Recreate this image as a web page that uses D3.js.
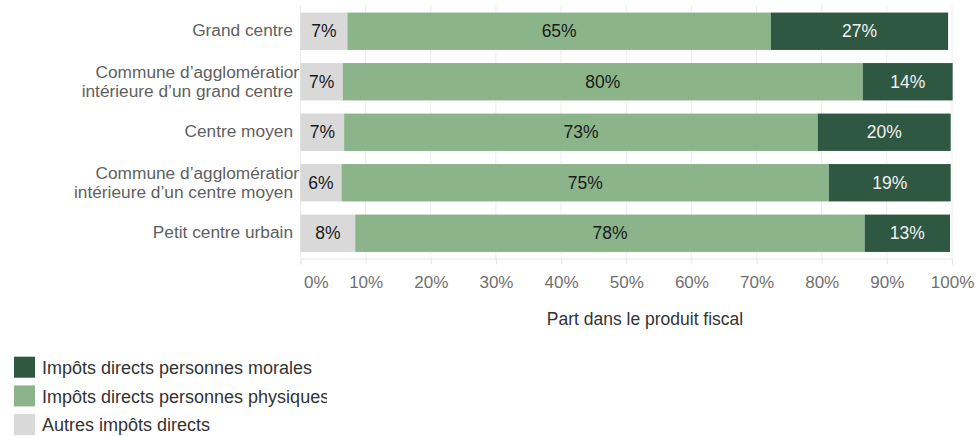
<!DOCTYPE html>
<html lang="fr">
<head>
<meta charset="utf-8">
<script src="https://cdn.jsdelivr.net/npm/d3@7"></script>
<style>
  html, body { margin: 0; padding: 0; background: #ffffff; }
  svg { display: block; font-family: "Liberation Sans", Arial, sans-serif; }
</style>
</head>
<body>
<svg id="chart" width="978" height="436"></svg>
<script>
// Categories (each label split into its displayed lines)
const categories = [
  "Grand centre",
  "Commune d’agglomération intérieure d’un grand centre",
  "Centre moyen",
  "Commune d’agglomération intérieure d’un centre moyen",
  "Petit centre urbain"
];
const categoryLines = [
  ["Grand centre"],
  ["Commune d’agglomération", "intérieure d’un grand centre"],
  ["Centre moyen"],
  ["Commune d’agglomération", "intérieure d’un centre moyen"],
  ["Petit centre urbain"]
];

// Shares of the tax yield, in percent
const autresImpots = [7.2, 6.5, 6.7, 6.3, 8.4];
const personnesPhysiques = [65.0, 79.8, 72.7, 74.8, 78.2];
const personnesMorales = [27.2, 13.8, 20.4, 18.7, 13.1];

const seriesNames = ["Autres impôts directs", "Impôts directs personnes physiques", "Impôts directs personnes morales"];
const seriesKeys = ["autres", "physiques", "morales"];
const seriesColors = ["#d9d9d9", "#8bb48a", "#2f5842"];
const labelColors = ["#1a1a1a", "#1a1a1a", "#f2f2f2"];

const tickValues = [0, 10, 20, 30, 40, 50, 60, 70, 80, 90, 100];
const axisTitle = "Part dans le produit fiscal";

// Legend order, top to bottom
const legendOrder = [2, 1, 0];

const rows = categories.map((c, i) => ({
  category: c,
  autres: autresImpots[i],
  physiques: personnesPhysiques[i],
  morales: personnesMorales[i]
}));

const svg = d3.select("#chart");
const plot = { left: 300.5, right: 952, top: 6, bottom: 258.5 };

const x = d3.scaleLinear().domain([0, 100]).range([plot.left, plot.right]);
const y = d3.scaleBand().domain(categories).range([plot.top, plot.bottom])
  .paddingInner(0.26).paddingOuter(0.13);

// Vertical gridlines
svg.append("g").selectAll("line").data(tickValues).join("line")
  .attr("x1", d => x(d)).attr("x2", d => x(d))
  .attr("y1", 5).attr("y2", plot.bottom)
  .attr("stroke", "#ececec").attr("stroke-width", 1);

// Bottom axis
const axis = d3.axisBottom(x).tickValues(tickValues).tickFormat(d => d + "%").tickSize(6).tickPadding(11);
const gx = svg.append("g").attr("transform", `translate(0,${plot.bottom})`).call(axis);
gx.select(".domain").attr("stroke", "#e6e6e6");
gx.selectAll(".tick line").attr("stroke", "#e6e6e6");
gx.selectAll(".tick text").attr("fill", "#707070").attr("font-size", 17)
  .attr("font-family", "Liberation Sans, Arial, sans-serif");
// first label starts at its tick instead of being centred on it
gx.selectAll(".tick text").filter(d => d === 0)
  .attr("text-anchor", "start").attr("x", 3);

// Stacked bars
const stack = d3.stack().keys(seriesKeys);
const stacked = stack(rows);

const layers = svg.append("g").selectAll("g").data(stacked).join("g")
  .attr("fill", (d, i) => seriesColors[i]);

layers.selectAll("rect").data(d => d.map(s => ({ s, cat: s.data.category }))).join("rect")
  .attr("x", d => x(d.s[0]))
  .attr("width", d => x(d.s[1]) - x(d.s[0]))
  .attr("y", d => y(d.cat))
  .attr("height", y.bandwidth());

// Value labels centered in each segment
const labels = svg.append("g").selectAll("g").data(stacked).join("g")
  .attr("fill", (d, i) => labelColors[i]);
labels.selectAll("text").data(d => d.map(s => ({ s, cat: s.data.category, v: s[1] - s[0] }))).join("text")
  .attr("x", d => (x(d.s[0]) + x(d.s[1])) / 2)
  .attr("y", d => y(d.cat) + y.bandwidth() / 2 + 6)
  .attr("text-anchor", "middle")
  .attr("font-size", 17.5)
  .text(d => Math.round(d.v) + "%");

// Category labels, clipped at the plot's left edge
svg.append("clipPath").attr("id", "catClip")
  .append("rect").attr("x", 0).attr("y", 0).attr("width", 299.3).attr("height", 270);

const cats = svg.append("g").attr("clip-path", "url(#catClip)")
  .attr("fill", "#5f5f5f").attr("font-size", 17.3);
categories.forEach((c, i) => {
  const lines = categoryLines[i];
  const cy = y(c) + y.bandwidth() / 2;
  if (lines.length === 1) {
    cats.append("text").attr("x", 293).attr("y", cy + 4.5)
      .attr("text-anchor", "end").text(lines[0]);
  } else {
    cats.append("text").attr("x", 303).attr("y", cy - 3.5)
      .attr("text-anchor", "end").text(lines[0]);
    cats.append("text").attr("x", 293).attr("y", cy + 15)
      .attr("text-anchor", "end").text(lines[1]);
  }
});

// Axis title
svg.append("text").attr("x", 645).attr("y", 325)
  .attr("text-anchor", "middle").attr("fill", "#333333").attr("font-size", 17.5)
  .text(axisTitle);

// Legend
svg.append("clipPath").attr("id", "legClip")
  .append("rect").attr("x", 0).attr("y", 340).attr("width", 327).attr("height", 96);
const legend = svg.append("g").attr("clip-path", "url(#legClip)");
legendOrder.forEach((si, k) => {
  const top = 356.7 + k * 28.7;
  legend.append("rect").attr("x", 14).attr("y", top).attr("width", 21).attr("height", 21)
    .attr("fill", seriesColors[si]);
  legend.append("text").attr("x", 42).attr("y", top + 17.3)
    .attr("fill", "#333333").attr("font-size", 18)
    .text(seriesNames[si]);
});
</script>
</body>
</html>
